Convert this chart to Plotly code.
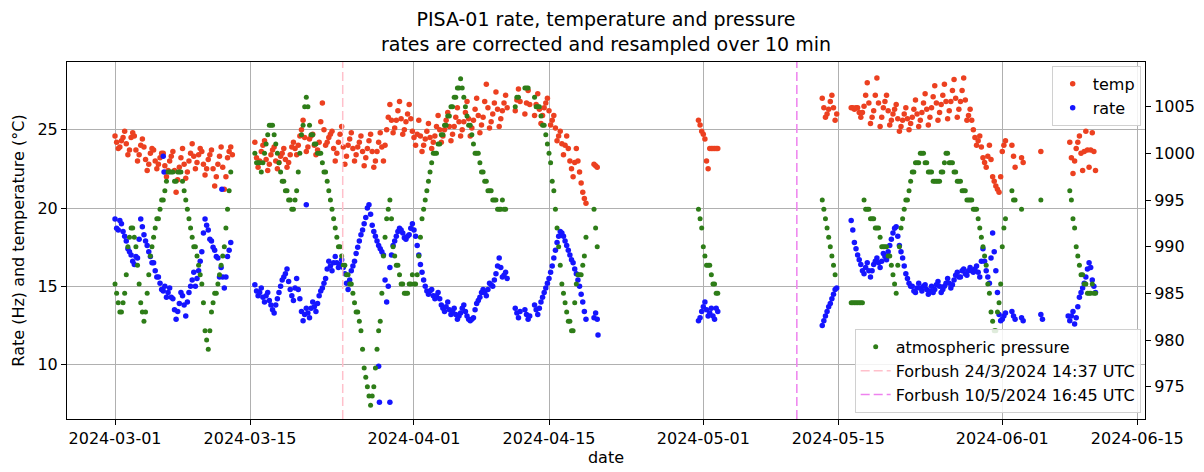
import pandas as pd
import plotly.graph_objects as go
from plotly.subplots import make_subplots

# ---------------- data ----------------
# main samples every 8 h from each segment start; a second set of readings
# ("_h" lists) is taken 4 h after each main sample.
STEP = "8h"
HALF = pd.Timedelta("4h")

# segment A: starts 2024-03-01 00:00
seg_A_start = "2024-03-01 00:00"
rate_A = [19.3, 18.6, 19.0, 18.2, 17.4, 17.0, 16.4, 16.8, 19.3, 18.3, 17.6, 16.9,
          16.5, 15.6, 15.2, 14.7, 14.3, 14.9, 14.2, 12.9, 13.9, 14.4, 13.1, 14.6,
          15.4, 15.0, 16.0, 17.2, 19.3, 18.6, 17.9, 17.3, 16.8, 16.2, 14.9, 16.9, 17.8]
rate_A_h = [18.7, 19.2, 18.5, 17.9, 17.2, 16.6, 16.9, 18.0, 18.8, 17.9, 17.2, 16.5,
            16.0, 15.6, 14.8, 15.0, 14.6, 14.3, 13.5, 13.4, 14.6, 13.8, 14.0, 15.0,
            15.9, 15.5, 16.6, 18.4, 18.9, 18.0, 17.5, 16.9, 15.6, 15.6, 15.6, 17.3, None]
temp_A = [24.6, 23.8, 24.3, 24.9, 23.4, 24.5, 24.6, 23.0, 24.0, 23.9, 22.4, 23.5,
          23.7, 22.5, 23.2, 23.5, 22.0, 23.0, 23.6, 21.0, 22.6, 23.8, 21.9, 23.0,
          24.1, 22.5, 23.4, 23.6, 22.1, 23.1, 23.7, 21.4, 22.8, 23.9, 21.2, 23.2, 23.9]
temp_A_h = [24.2, 23.9, 24.5, 24.1, 23.7, 24.8, 23.7, 23.4, 24.4, 23.1, 22.8, 23.8,
            23.0, 22.8, 23.5, 22.7, 22.4, 23.3, 22.4, 21.8, 23.2, 22.8, 22.3, 23.5,
            23.3, 22.9, 23.8, 22.8, 22.5, 23.4, 22.5, 22.0, 23.3, 22.6, 22.0, 23.6, 23.4]
press_A = [986, 984, 983, 985, 990, 992, 991, 988, 984, 982, 985, 989,
           991, 993, 994, 995, 997, 998, 998, 997, 998, 997, 995, 993,
           991, 990, 988, 986, 981, 979, 983, 985, 986, 988, 990, 994, 998]
press_A_h = [985, 983, 984, 987, 991, 992, 990, 986, 983, 983, 987, 990,
             992, 993, 995, 996, 998, 998, 997, 998, 998, 996, 994, 992,
             990, 989, 987, 984, 980, 981, 984, 985, 987, 989, 992, 996, None]

# segment B: starts 2024-03-15 12:00
seg_B_start = "2024-03-15 12:00"
rate_B = [15.1, 14.4, 14.9, 14.0, 14.6, 13.8, 13.3, 14.2, 15.0, 15.6,
          16.1, 14.8, 14.1, 15.5, 14.2, 12.8, 13.6, 13.0, 14.0, 13.4,
          14.4, 14.9, 15.5, 16.6, 16.0, 16.9, 16.2, 16.7, 15.8, 14.8,
          16.0, 16.6, 17.5, 18.3, 19.0, 20.0, 19.6, 18.5, 17.9, 17.4,
          17.0, 14.0, 16.2, 17.6, 18.2, 18.7, 18.4, 18.0, 18.3, 19.0,
          18.2, 17.0, 15.9, 15.0, 14.5, 14.8, 14.2, 14.6, 13.8, 13.4,
          14.0, 13.2, 13.6, 12.9, 13.3, 13.8, 13.1, 12.8, 13.0, 13.9,
          14.3, 14.8, 14.4, 15.2, 15.0, 15.8, 16.8, 15.6, 15.9, None,
          None, 13.6, 13.0, None, 13.5, 12.9, None, 13.8, 13.2, 14.0,
          14.6, 15.2, 15.9, 16.8, 17.8, 18.5, 18.2, 17.6, 17.0, 16.5,
          15.8, 15.0, 14.0, 12.9, None, None, 13.3]
rate_B_h = [14.7, 14.6, 14.3, 14.4, 14.1, 13.5, 13.8, 14.6, 15.4, 15.8,
            15.3, 14.4, 14.9, 14.8, 13.4, 13.2, 13.3, 13.6, 13.7, 13.9,
            14.7, 15.2, 16.1, 16.3, 16.5, 16.5, 16.4, 16.2, 15.2, 15.4,
            16.3, 17.1, 17.9, 18.6, 19.4, 20.2, 18.9, 18.2, 17.6, 17.2,
            15.4, 15.0, 17.0, 17.9, 18.5, 18.6, 18.1, 18.2, 18.7, 18.6,
            17.6, 16.4, 15.4, 14.7, 14.7, 14.4, 14.4, 14.2, 13.6, 13.7,
            13.5, 13.4, 13.2, 13.1, 13.6, 13.4, 12.9, 12.9, 13.5, 14.1,
            14.6, 14.6, 14.8, 15.1, 15.4, 16.3, 16.2, 15.7, 15.5, None,
            None, 13.3, 13.4, None, 13.2, 13.1, None, 13.5, 13.6, 14.3,
            14.9, 15.5, 16.3, 17.3, 18.2, 18.4, 17.9, 17.3, 16.7, 16.1,
            15.4, 14.5, 13.4, None, None, 13.0, 12.9]
temp_B = [24.2, 22.6, 23.6, 24.3, 22.4, 23.4, 23.9, 22.5, 23.3, 23.8,
          22.6, 23.4, 24.2, 23.4, 24.6, 25.6, 23.6, 24.4, 24.7, 23.4,
          24.2, 26.7, 24.0, 24.5, 24.9, 23.0, 24.2, 25.2, 22.8, 24.0,
          24.8, 23.0, 23.9, 24.6, 22.7, 23.8, 24.7, 22.6, 23.6, 24.8,
          23.0, 25.0, 26.6, 24.8, 25.6, 26.8, 24.7, 25.5, 26.6, 24.9,
          24.0, 25.6, 23.6, 24.4, 25.4, 23.8, 24.6, 25.9, 24.2, 25.0,
          26.1, 24.3, 25.2, 26.4, 24.6, 25.5, 26.8, 24.6, 25.6, 27.0,
          24.8, 25.8, 27.9, 25.1, 26.0, 27.4, 25.2, 26.2, 27.2, None,
          None, 26.2, 27.6, None, 26.0, 27.5, None, 25.9, 27.3, 25.4,
          26.4, 27.0, 25.3, 25.9, 24.3, 24.9, 23.4, 24.6, 23.0, 22.0,
          23.8, 22.3, 21.0, 20.3, None, None, 22.7]
temp_B_h = [23.2, 23.0, 24.0, 23.1, 22.8, 23.7, 23.0, 22.9, 23.5, 23.1,
            22.9, 23.9, 23.8, 24.0, 25.0, 24.5, 23.9, 24.6, 24.0, 23.7,
            25.5, 25.0, 24.2, 24.7, 23.8, 23.5, 24.7, 23.9, 23.3, 24.4,
            23.8, 23.4, 24.2, 23.6, 23.2, 24.3, 23.6, 23.0, 24.2, 23.9,
            24.0, 25.8, 25.6, 25.1, 26.2, 25.7, 25.0, 26.0, 25.7, 24.5,
            24.7, 24.6, 24.0, 24.9, 24.5, 24.2, 25.2, 25.0, 24.6, 25.6,
            25.2, 24.7, 25.8, 25.5, 25.0, 26.1, 25.7, 25.1, 26.3, 25.9,
            25.3, 26.8, 26.4, 25.5, 26.7, 26.3, 25.7, 26.7, 26.4, None,
            None, 26.9, 26.8, None, 26.7, 26.6, None, 26.6, 26.3, 25.9,
            26.7, 26.2, 25.6, 25.1, 24.6, 24.1, 24.0, 23.8, 22.5, 22.9,
            23.0, 21.6, 20.6, None, None, 22.8, 22.6]
press_B = [1000, 999, 998, 1000, 1002, 1003, 1002, 1000, 998, 997,
           996, 995, 994, 996, 1000, 1003, 1006, 1003, 1002, 1001,
           1000, 999, 998, 996, 994, 992, 990, 989, 988, 987,
           986, 984, 983, 981, 977, 975, 973, 975, 979, 982,
           989, 993, 995, 990, 988, 987, 986, 985, 986, 987,
           986, 989, 993, 995, 997, 999, 1000, 1001, 1002, 1003,
           1004, 1005, 1006, 1007, 1008, 1006, 1004, 1003, 1001, 1000,
           999, 998, 997, 996, 995, 995, 994, 995, 994, None,
           None, 1005, 1006, None, 1007, 1007, None, 1006, 1005, 1004,
           1003, 1001, 999, 996, 992, 988, 985, 983, 982, 981,
           986, 987, 988, 991, None, None, 992]
press_B_h = [999, 999, 999, 1001, 1003, 1003, 1001, 999, 997, 996,
             995, 994, 995, 998, 1002, 1005, 1005, 1002, 1001, 1000,
             1000, 998, 997, 995, 993, 991, 990, 988, 987, 986,
             985, 983, 982, 979, 976, 974, 974, 977, 981, 985,
             991, 994, 993, 989, 988, 986, 985, 985, 986, 986,
             987, 991, 994, 996, 998, 1000, 1000, 1001, 1002, 1003,
             1004, 1005, 1006, 1007, 1007, 1005, 1003, 1002, 1000, 1000,
             998, 997, 996, 996, 995, 994, 994, 994, None, None,
             None, 1006, None, None, 1007, None, None, 1005, 1005, 1003,
             1002, 1000, 997, 994, 990, 986, 984, 982, 981, 984,
             987, 987, 989, None, None, 994, 990]

# segment C: starts 2024-04-30 12:00
seg_C_start = "2024-04-30 12:00"
rate_C = [12.8, 13.4, 14.0, 13.1, 13.6, 12.9, 13.4]
rate_C_h = [13.0, 13.7, 13.5, 13.3, 13.1, 13.6, None]
temp_C = [25.6, 24.9, 24.4, 22.5, 23.8, 23.8, 23.8]
temp_C_h = [25.3, 24.7, 23.0, 23.8, 23.8, 23.8, None]
press_C = [994, 992, 989, 988, 987, 986, 985]
press_C_h = [993, 990, 988, 988, 986, 985, None]

# segment D: starts 2024-05-13 00:00 (one row per day)
seg_D_start = "2024-05-13 00:00"
rate_D = [None, 12.5, 13.1,   13.7, 14.2, 14.8,   None, None, None,
          None, 19.2, 17.8,   17.0, 16.4, 15.8,   16.5, 15.6, 16.4,
          16.8, 16.2, 17.1,   16.7, 17.6, 18.4,   18.8, 17.6, 16.8,
          15.8, 15.2, 15.0,   14.6, 15.2, 14.7,   15.1, 14.5, 15.0,
          14.8, 15.3, 14.6,   15.0, 15.5, 14.9,   15.4, 15.9, 15.6,
          16.1, 15.7, 16.2,   15.9, 16.3, 15.6,   17.4, 16.0, 15.2,
          18.4, 16.0, 13.2,   12.9, 13.3, None,   13.4, 12.9, None,
          13.0, None, None,   None, None, None,   13.2, None, None,
          None, None, None,   None, None, None,   12.8, 13.4, 13.0,
          14.3, 14.9, 15.6,   16.5, 15.4, 14.6]
rate_D_h = [None, 12.8, 13.4,   13.9, 14.5, 14.9,   None, None, None,
            None, 18.6, 17.4,   16.7, 16.0, 16.2,   16.0, 16.0, 16.6,
            16.5, 16.6, 16.9,   17.2, 18.0, 18.7,   18.2, 17.2, 16.3,
            15.5, 15.0, 14.7,   14.9, 14.9, 15.0,   14.8, 14.7, 14.6,
            15.1, 15.0, 14.8,   15.2, 15.2, 15.1,   15.7, 15.6, 16.0,
            15.8, 16.0, 16.0,   16.1, 15.9, 16.6,   16.6, 15.6, 16.8,
            17.2, 14.6, 12.8,   13.1, None, None,   13.1, None, None,
            12.8, None, None,   None, None, None,   12.9, None, None,
            None, None, None,   None, None, 13.1,   13.1, 12.6, 13.7,
            14.6, 15.2, 16.1,   16.2, 15.0, None]
temp_D = [None, 27.0, 25.8,   26.3, 27.2, 25.6,   None, None, None,
          None, 26.4, 26.3,   26.4, 25.8, 26.5,   28.0, 25.4, 26.2,
          28.3, 25.2, 26.4,   27.2, 25.3, 26.0,   26.6, 24.9, 25.6,
          26.4, 25.0, 25.8,   26.9, 25.2, 26.1,   27.3, 25.3, 26.4,
          27.8, 25.6, 26.6,   27.9, 25.7, 26.8,   28.2, 25.8, 26.8,
          28.3, 25.6, 26.3,   25.0, 24.0, 24.6,   23.2, 22.6, 24.0,
          22.0, 21.4, 21.0,   23.6, 24.3, None,   24.0, 22.6, None,
          23.2, None, None,   None, None, None,   23.6, None, None,
          None, None, None,   None, None, None,   24.2, 22.2, 23.8,
          24.6, 22.4, 24.9,   22.6, 24.8, 22.4]
temp_D_h = [None, 26.4, 26.0,   26.8, 26.4, 26.0,   None, None, None,
            None, 26.4, 26.4,   26.1, 26.1, 27.2,   26.7, 25.8, 27.2,
            26.7, 25.8, 26.8,   26.2, 25.6, 26.3,   25.7, 25.2, 26.0,
            25.7, 25.4, 26.3,   26.0, 25.6, 26.7,   26.3, 25.8, 27.1,
            26.7, 26.1, 27.2,   26.8, 26.2, 27.5,   27.0, 26.3, 27.5,
            26.9, 25.9, 25.6,   24.5, 24.3, 23.9,   22.9, 23.3, 23.1,
            21.7, 21.2, 22.0,   24.0, None, None,   23.3, None, None,
            22.9, None, None,   None, None, None,   None, None, None,
            None, None, None,   None, None, None,   23.2, 23.0, 24.2,
            23.5, 23.6, 23.7,   23.7, 23.6, None]
press_D = [None, 995, 993,   991, 989, 987,   None, None, None,
           None, 984, 984,   984, 984, 995,   994, 993, 993,
           992, 991, 990,   990, 989, 987,   985, 990, 993,
           995, 996, 998,   999, 999, 1000,   999, 998, 998,
           997, 997, 998,   999, 1000, 999,   998, 997, 997,
           996, 995, 995,   994, 994, 992,   990, 988, 985,
           982, 981, 984,   990, 993, None,   996, 995, None,
           994, None, None,   None, None, None,   995, None, None,
           None, None, None,   None, None, None,   996, 993, 990,
           988, 987, 986,   985, 986, 985]
press_D_h = [None, 994, 992,   990, 988, None,   None, None, None,
             None, 984, 984,   984, 984, 994,   994, 993, 992,
             992, 990, 990,   989, 988, 986,   988, 992, 994,
             995, 997, 998,   999, 1000, 1000,   999, 998, 997,
             997, 997, 998,   1000, 999, 999,   998, 997, 996,
             996, 995, 995,   994, 993, 991,   989, 986, 983,
             981, 983, 986,   992, None, None,   995, None, None,
             None, None, None,   None, None, None,   None, None, None,
             None, None, None,   None, None, None,   995, 992, 989,
             987, 986, 985,   985, 985, None]

# isolated rate points
rate_extra_dates = ["2024-03-06 00:00", "2024-03-06 02:00", "2024-03-12 02:00",
                    "2024-03-20 20:00", "2024-03-28 08:00", "2024-03-28 10:00",
                    "2024-03-29 12:00", "2024-04-20 02:00"]
rate_extra_values = [23.3, 22.3, 21.2, 20.2, 9.9, 7.6, 7.6, 11.9]

forbush_times = ["2024-03-24 14:37", "2024-05-10 16:45"]
forbush_labels = ["Forbush 24/3/2024 14:37 UTC", "Forbush 10/5/2024 16:45 UTC"]
forbush_colors = ["pink", "violet"]

x_tick_labels = ["2024-03-01", "2024-03-15", "2024-04-01", "2024-04-15",
                 "2024-05-01", "2024-05-15", "2024-06-01", "2024-06-15"]
left_ticks = [10, 15, 20, 25]
right_ticks = [975, 980, 985, 990, 995, 1000, 1005]

# ---------------- assemble ----------------
segments = [
    (seg_A_start, {"rate": (rate_A, rate_A_h), "temp": (temp_A, temp_A_h), "press": (press_A, press_A_h)}),
    (seg_B_start, {"rate": (rate_B, rate_B_h), "temp": (temp_B, temp_B_h), "press": (press_B, press_B_h)}),
    (seg_C_start, {"rate": (rate_C, rate_C_h), "temp": (temp_C, temp_C_h), "press": (press_C, press_C_h)}),
    (seg_D_start, {"rate": (rate_D, rate_D_h), "temp": (temp_D, temp_D_h), "press": (press_D, press_D_h)}),
]


def series(key):
    xs, ys = [], []
    for start, d in segments:
        main, half = d[key]
        t0 = pd.Timestamp(start)
        xs += list(pd.date_range(t0, periods=len(main), freq=STEP))
        ys += main
        xs += list(pd.date_range(t0 + HALF, periods=len(half), freq=STEP))
        ys += half
    return xs, ys


rate_x, rate_y = series("rate")
rate_x += list(pd.to_datetime(rate_extra_dates))
rate_y += rate_extra_values
temp_x, temp_y = series("temp")
press_x, press_y = series("press")

FONT = "DejaVu Sans"
fig = make_subplots(specs=[[{"secondary_y": True}]])

fig.add_trace(go.Scatter(x=temp_x, y=temp_y, mode="markers", name="temp",
                         marker=dict(color="#ec4020", size=5.5, line=dict(width=0)),
                         legend="legend"), secondary_y=False)
fig.add_trace(go.Scatter(x=rate_x, y=rate_y, mode="markers", name="rate",
                         marker=dict(color="#1515ff", size=5.5, line=dict(width=0)),
                         legend="legend"), secondary_y=False)
fig.add_trace(go.Scatter(x=press_x, y=press_y, mode="markers", name="atmospheric pressure",
                         marker=dict(color="#2e7d18", size=5, line=dict(width=0)),
                         legend="legend2", legendrank=1), secondary_y=True)

for i, (t, lab, col) in enumerate(zip(forbush_times, forbush_labels, forbush_colors)):
    fig.add_shape(type="line", xref="x", yref="paper", x0=t, x1=t, y0=0, y1=1,
                  line=dict(color=col, width=1.5, dash="9px,4px"),
                  showlegend=True, name=lab, legend="legend2", legendrank=2 + i,
                  layer="above")

fig.update_layout(
    template="none",
    width=1204, height=472,
    margin=dict(l=67, r=59, t=62, b=53),
    paper_bgcolor="white", plot_bgcolor="white",
    font=dict(family=FONT, size=16, color="black"),
    title=dict(text="PISA-01 rate, temperature and pressure<br>rates are corrected and resampled over 10 min",
               x=0.5, xref="paper", xanchor="center",
               y=0.944, yref="container", yanchor="top",
               font=dict(family=FONT, size=19, color="black")),
    legend=dict(x=0.996, y=0.989, xanchor="right", yanchor="top",
                bgcolor="rgba(255,255,255,0.85)", bordercolor="#d0d0d0", borderwidth=1,
                font=dict(family=FONT, size=16)),
    legend2=dict(x=0.996, y=0.017, xanchor="right", yanchor="bottom",
                 bgcolor="rgba(255,255,255,0.85)", bordercolor="#d0d0d0", borderwidth=1,
                 font=dict(family=FONT, size=16)),
)

fig.update_xaxes(type="date", domain=[0, 1], range=["2024-02-25 00:29", "2024-06-15 19:12"],
                 tickvals=x_tick_labels, ticktext=x_tick_labels,
                 showgrid=True, gridcolor="#b0b0b0", gridwidth=0.8,
                 showline=True, linecolor="black", linewidth=1, mirror=True,
                 ticks="outside", ticklen=5, tickcolor="black",
                 zeroline=False, automargin=False,
                 title=dict(text="date", standoff=4, font=dict(family=FONT, size=16)))
fig.update_yaxes(range=[6.53, 29.32], tickvals=left_ticks,
                 showgrid=True, gridcolor="#b0b0b0", gridwidth=0.8,
                 showline=True, linecolor="black", linewidth=1,
                 ticks="outside", ticklen=5, tickcolor="black",
                 zeroline=False, automargin=False,
                 title=dict(text="Rate (Hz) and temperature (°C)", standoff=8,
                            font=dict(family=FONT, size=16)),
                 secondary_y=False)
fig.update_yaxes(range=[971.54, 1009.79], tickvals=right_ticks,
                 showgrid=False, showline=True, linecolor="black", linewidth=1,
                 ticks="outside", ticklen=5, tickcolor="black",
                 zeroline=False, automargin=False,
                 secondary_y=True)

fig.write_html("out.html", config={"displayModeBar": False},
               post_script="document.body.style.margin='0px';")
